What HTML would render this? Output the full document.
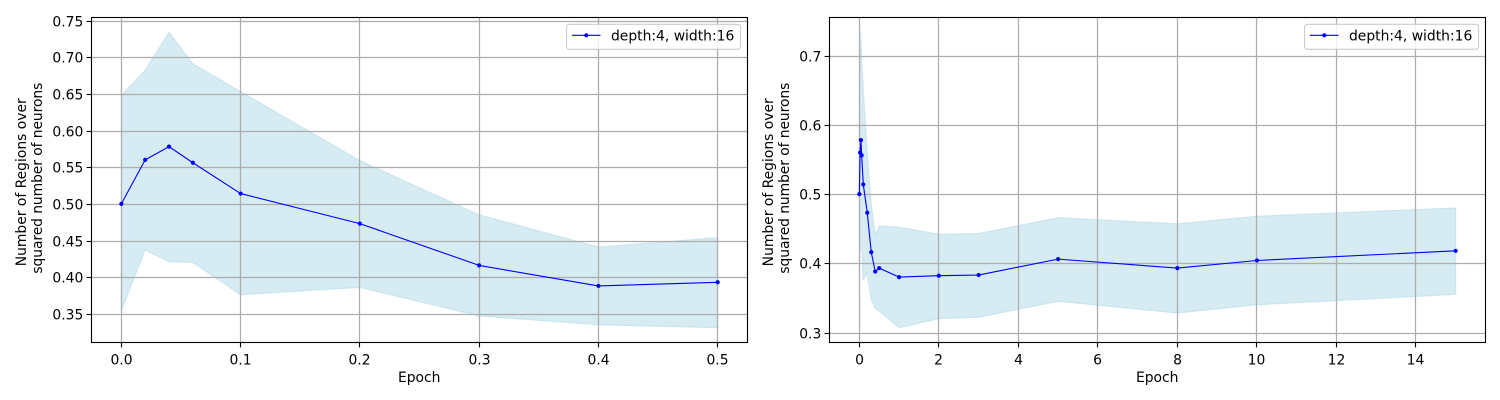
<!DOCTYPE html>
<html>
<head>
<meta charset="utf-8">
<title>Number of Regions over squared number of neurons</title>
<style>
html,body{margin:0;padding:0;background:#fff;width:1500px;height:400px;overflow:hidden}
svg{display:block}
text{font-family:"DejaVu Sans","Liberation Sans",sans-serif;font-size:13.89px;fill:#000}
</style>
</head>
<body>
<svg id="fig" xmlns="http://www.w3.org/2000/svg" width="1500" height="400" viewBox="0 0 1500 400"></svg>
<script>
const leftEpochs = [0, 0.02, 0.04, 0.06, 0.1, 0.2, 0.3, 0.4, 0.5];
const leftMean = [0.501, 0.561, 0.579, 0.557, 0.515, 0.474, 0.417, 0.389, 0.394];
const leftUpper = [0.649, 0.683, 0.735, 0.692, 0.654, 0.560, 0.486, 0.442, 0.455];
const leftLower = [0.355, 0.438, 0.422, 0.421, 0.377, 0.387, 0.348, 0.336, 0.332];
const leftXTicks = ["0.0", "0.1", "0.2", "0.3", "0.4", "0.5"];
const leftYTicks = ["0.35", "0.40", "0.45", "0.50", "0.55", "0.60", "0.65", "0.70", "0.75"];

const rightEpochs = [0, 0.02, 0.04, 0.06, 0.1, 0.2, 0.3, 0.4, 0.5, 1, 2, 3, 5, 8, 10, 15];
const rightMean = [0.501, 0.561, 0.579, 0.557, 0.515, 0.474, 0.417, 0.389, 0.394, 0.381, 0.383, 0.384, 0.407, 0.394, 0.405, 0.419];
const rightUpper = [0.649, 0.683, 0.735, 0.692, 0.654, 0.560, 0.486, 0.442, 0.455, 0.453, 0.443, 0.444, 0.467, 0.458, 0.469, 0.481];
const rightLower = [0.355, 0.438, 0.422, 0.421, 0.377, 0.387, 0.348, 0.336, 0.332, 0.3078, 0.321, 0.323, 0.346, 0.329, 0.341, 0.356];
const rightXTicks = ["0", "2", "4", "6", "8", "10", "12", "14"];
const rightYTicks = ["0.3", "0.4", "0.5", "0.6", "0.7"];

const legendLabel = "depth:4, width:16";
const xAxisLabel = "Epoch";
const yAxisLines = ["Number of Regions over", "squared number of neurons"];

const NS = "http://www.w3.org/2000/svg";
const fig = document.getElementById("fig");

function mk(parent, tag, attrs, txt) {
  const e = document.createElementNS(NS, tag);
  for (const k in attrs) e.setAttribute(k, attrs[k]);
  if (txt !== undefined) e.textContent = txt;
  parent.appendChild(e);
  return e;
}

function extent(a, b) {
  const lo = Math.min(...a), hi = Math.max(...b);
  const m = (hi - lo) * 0.05;
  return [lo - m, hi + m];
}

function drawPanel(id, box, xs, mean, upper, lower, xTicks, yTicks) {
  const [xMin, xMax] = extent(xs, xs);
  const [yMin, yMax] = extent(lower, upper);
  const xScale = v => box.left + (v - xMin) / (xMax - xMin) * (box.right - box.left);
  const yScale = v => box.bottom - (v - yMin) / (yMax - yMin) * (box.bottom - box.top);
  const snap = p => Math.round(p - 0.5) + 0.5;

  const g = mk(fig, "g", {});
  
  

  // confidence band
  const upperPts = xs.map((x, i) => xScale(x).toFixed(2) + "," + yScale(upper[i]).toFixed(2));
  const lowerPts = xs.map((x, i) => xScale(x).toFixed(2) + "," + yScale(lower[i]).toFixed(2)).reverse();
  const band = mk(g, "polygon", {points: upperPts.concat(lowerPts).join(" "), fill: "#add8e6", "fill-opacity": 0.5, stroke: "#add8e6", "stroke-opacity": 0.5, "stroke-width": 1.1});
  
  

  // grid and ticks
  xTicks.forEach(t => {
    const px = snap(xScale(parseFloat(t)));
    const gl = mk(g, "line", {x1: px, x2: px, y1: box.top, y2: box.bottom, stroke: "#adadad", "stroke-width": 1.25});
    
    
    const tm = mk(g, "line", {x1: px, x2: px, y1: box.bottom, y2: box.bottom + 4.9, stroke: "#000", "stroke-width": 1.11});
    
    
    const lb = mk(g, "text", {x: px, y: box.bottom + 22, "text-anchor": "middle"}, t);
    
    
  });
  yTicks.forEach(t => {
    const py = snap(yScale(parseFloat(t)));
    const gl = mk(g, "line", {x1: box.left, x2: box.right, y1: py, y2: py, stroke: "#adadad", "stroke-width": 1.25});
    
    
    const tm = mk(g, "line", {x1: box.left - 4.9, x2: box.left, y1: py, y2: py, stroke: "#000", "stroke-width": 1.11});
    
    
    const lb = mk(g, "text", {x: box.left - 8.2, y: py + 5, "text-anchor": "end"}, t);
    
    
  });

  // mean line
  const linePts = xs.map((x, i) => xScale(x).toFixed(2) + "," + yScale(mean[i]).toFixed(2)).join(" ");
  const line = mk(g, "polyline", {points: linePts, fill: "none", stroke: "#0000ff", "stroke-width": 1.11, "stroke-linejoin": "round"});
  
  
  xs.forEach((x, i) => {
    const c = mk(g, "circle", {cx: xScale(x).toFixed(2), cy: yScale(mean[i]).toFixed(2), r: 2.1, fill: "#0000ff"});
    
    
  });

  // spines
  const frame = mk(g, "rect", {x: box.left, y: box.top, width: box.right - box.left, height: box.bottom - box.top, fill: "none", stroke: "#000", "stroke-width": 1.11});
  
  

  // axis labels
  const xl = mk(g, "text", {x: (box.left + box.right) / 2 - 0.3, y: box.bottom + 39.5, "text-anchor": "middle"}, xAxisLabel);
  
  
  yAxisLines.forEach((s, i) => {
    const tx = box.labelX + i * 16;
    const cy = (box.top + box.bottom) / 2 + (i === 0 ? 2.3 : -1.8);
    const yl = mk(g, "text", {x: tx, y: cy, "text-anchor": "middle", "letter-spacing": i === 0 ? 0 : -0.08, transform: "rotate(-90 " + tx + " " + cy + ")"}, s);
    
    
  });

  // legend
  const lg = mk(g, "g", {});
  
  
  const lx = box.right - 181, ly = box.top + 6.8;
  mk(lg, "rect", {x: lx, y: ly, width: 174, height: 25, rx: 3, ry: 3, fill: "#fff", "fill-opacity": 0.8, stroke: "#ccc", "stroke-width": 1.11});
  mk(lg, "line", {x1: lx + 5.5, x2: lx + 34, y1: ly + 11, y2: ly + 11, stroke: "#0000ff", "stroke-width": 1.11});
  mk(lg, "circle", {cx: lx + 19.8, cy: ly + 11, r: 2.1, fill: "#0000ff"});
  const lt = mk(lg, "text", {x: lx + 44.5, y: ly + 16.3}, legendLabel);
  
  
}

drawPanel("left", {left: 91.5, right: 747.5, top: 17.5, bottom: 342.5, labelX: 26}, leftEpochs, leftMean, leftUpper, leftLower, leftXTicks, leftYTicks);
drawPanel("right", {left: 829.5, right: 1485.5, top: 17.5, bottom: 342.5, labelX: 773}, rightEpochs, rightMean, rightUpper, rightLower, rightXTicks, rightYTicks);
</script>
</body>
</html>
